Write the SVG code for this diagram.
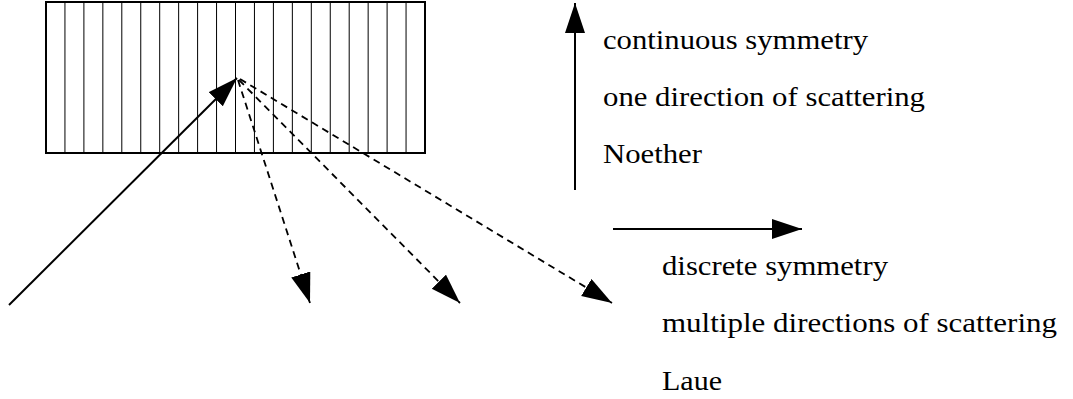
<svg xmlns="http://www.w3.org/2000/svg" width="1073" height="399" viewBox="0 0 1073 399">
<style>
.frame{fill:none;stroke:#000;stroke-width:2}
.strip{stroke:#000;stroke-width:1}
.ray{fill:none;stroke:#000;stroke-width:2}
.dash{fill:none;stroke:#000;stroke-width:1.8;stroke-dasharray:7 5}
.lbl{font-size:28px;fill:#000}
</style>
<defs>
<marker id="ah" markerUnits="userSpaceOnUse" markerWidth="31" markerHeight="21" refX="30" refY="10" orient="auto" viewBox="0 0 31 21">
<path d="M0,0 L30,10 L0,20 z" fill="#000" stroke="none"/>
</marker>
</defs>
<rect width="1073" height="399" fill="#fff"/>
<g id="crystal">
<g class="strip">
<line x1="64.95" y1="2" x2="64.95" y2="153"/>
<line x1="83.9" y1="2" x2="83.9" y2="153"/>
<line x1="102.85" y1="2" x2="102.85" y2="153"/>
<line x1="121.8" y1="2" x2="121.8" y2="153"/>
<line x1="140.75" y1="2" x2="140.75" y2="153"/>
<line x1="159.7" y1="2" x2="159.7" y2="153"/>
<line x1="178.65" y1="2" x2="178.65" y2="153"/>
<line x1="197.6" y1="2" x2="197.6" y2="153"/>
<line x1="216.55" y1="2" x2="216.55" y2="153"/>
<line x1="235.5" y1="2" x2="235.5" y2="153"/>
<line x1="254.45" y1="2" x2="254.45" y2="153"/>
<line x1="273.4" y1="2" x2="273.4" y2="153"/>
<line x1="292.35" y1="2" x2="292.35" y2="153"/>
<line x1="311.3" y1="2" x2="311.3" y2="153"/>
<line x1="330.25" y1="2" x2="330.25" y2="153"/>
<line x1="349.2" y1="2" x2="349.2" y2="153"/>
<line x1="368.15" y1="2" x2="368.15" y2="153"/>
<line x1="387.1" y1="2" x2="387.1" y2="153"/>
<line x1="406.05" y1="2" x2="406.05" y2="153"/>
</g>
<rect class="frame" x="46" y="2" width="379" height="151"/>
</g>
<g id="connectors">
<line class="ray" x1="9" y1="305" x2="237" y2="78" marker-end="url(#ah)"/>
<line class="dash" x1="238" y1="80" x2="310" y2="303" marker-end="url(#ah)"/>
<line class="dash" x1="239" y1="80" x2="460" y2="303" marker-end="url(#ah)"/>
<line class="dash" x1="240" y1="79" x2="612" y2="303" marker-end="url(#ah)"/>
<line class="ray" x1="575" y1="190" x2="575" y2="3" marker-end="url(#ah)"/>
<line class="ray" x1="613" y1="229" x2="802" y2="229" marker-end="url(#ah)"/>
</g>
<g id="continuous-labels" font-family="'Liberation Serif', 'DejaVu Serif', serif">
<text class="lbl" x="603" y="49" textLength="265" lengthAdjust="spacingAndGlyphs">continuous symmetry</text>
<text class="lbl" x="603" y="106" textLength="322" lengthAdjust="spacingAndGlyphs">one direction of scattering</text>
<text class="lbl" x="603" y="163" textLength="99" lengthAdjust="spacingAndGlyphs">Noether</text>
</g>
<g id="discrete-labels" font-family="'Liberation Serif', 'DejaVu Serif', serif">
<text class="lbl" x="662" y="275" textLength="226" lengthAdjust="spacingAndGlyphs">discrete symmetry</text>
<text class="lbl" x="662" y="332" textLength="395" lengthAdjust="spacingAndGlyphs">multiple directions of scattering</text>
<text class="lbl" x="662" y="390" textLength="60" lengthAdjust="spacingAndGlyphs">Laue</text>
</g>
</svg>
